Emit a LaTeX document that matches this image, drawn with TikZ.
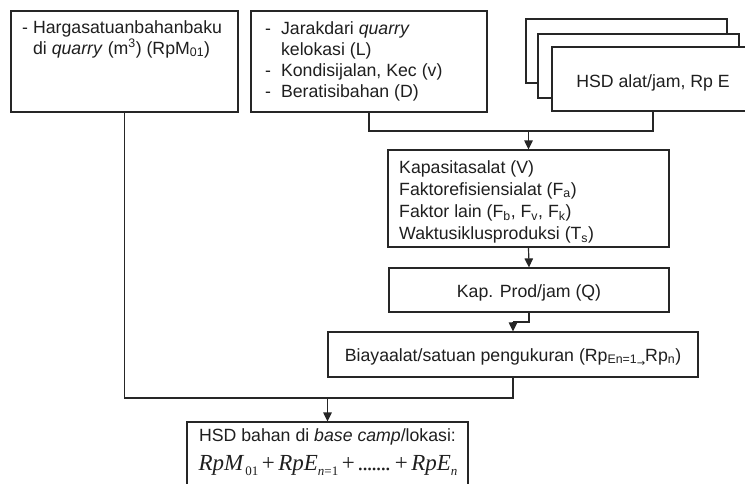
\documentclass[tikz,border=0pt]{standalone}
\usepackage{fontspec}
\setmainfont{Liberation Sans}
\newfontfamily\tms{Liberation Serif}
\newfontfamily\djv{DejaVu Sans}
\usetikzlibrary{arrows.meta,fit}
\newcommand\fsub[1]{\raisebox{-5pt}{\fontsize{13}{13}\selectfont #1}}
\newcommand\pl{\kern3.5pt{\upshape+}\kern3.5pt}
\newcommand\dt{.\kern-1.2pt}
\begin{document}
\begin{tikzpicture}[x=1pt,y=-1pt,
  every node/.style={font=\fontsize{17.7}{21}\selectfont, text=black!88},
  box/.style={draw=black!85, line width=1.2pt, fill=white, inner sep=0pt},
  txt/.style={inner sep=0pt, anchor=base west},
  arr/.style={draw=black!85, line width=1.2pt, -{Triangle[length=9pt,width=8.5pt]}},
  con/.style={draw=black!85, line width=1.2pt}]
\clip (0,0) rectangle (745,483);
\fill[white] (0,0) rectangle (745,483);
% boxes
\node[box, fit={(11,11) (238,112)}] (b1) {};
\node[box, fit={(251,11) (487,112)}] (b2) {};
\node[box, fit={(526,19) (727,83)}] (b3a) {};
\node[box, fit={(538,34) (739,98)}] (b3b) {};
\node[box, fit={(552,47) (754,111)}] (b3) {};
\node[txt, anchor=base] (t3) at (653,87) {HSD alat/jam, Rp E};
\node[box, fit={(388,150) (669,247)}] (b4) {};
\node[box, fit={(389,268) (669,312)}] (b5) {};
\node[txt, anchor=base] (t5) at (529,297) {Kap. Prod/jam (Q)};
\node[box, fit={(328,332) (698,377)}] (b6) {};
\node[txt, anchor=base] (t6) at (513,361) {Biayaalat/satuan pengukuran (Rp\textsubscript{En=1}\kern-0.5pt\raisebox{-5pt}{\djv\fontsize{10}{10}\selectfont →}Rp\textsubscript{n})};
\node[box, fit={(187,422) (468,500)}] (b7) {};
% texts
\node[txt] (t1) at (22,33) {\begin{tabular}[t]{@{}l@{\hspace{5pt}}l@{}}-&Hargasatuanbahanbaku\\&di \textit{quarry} (m\textsuperscript{3}) (RpM\textsubscript{01})\end{tabular}};
\node[txt] (t2) at (265,34) {\begin{tabular}[t]{@{}l@{\hspace{10pt}}l@{}}-&Jarakdari \textit{quarry}\\&kelokasi (L)\\-&Kondisijalan, Kec (v)\\-&Beratisibahan (D)\end{tabular}};
\node[txt, font=\fontsize{17.7}{22.3}\selectfont] (t4) at (399,173) {\begin{tabular}[t]{@{}l@{}}Kapasitasalat (V)\\Faktorefisiensialat (F\textsubscript{a})\\Faktor lain (F\textsubscript{b}, F\textsubscript{v}, F\textsubscript{k})\\Waktusiklusproduksi (T\textsubscript{s})\end{tabular}};
\node[txt, anchor=base] (t7) at (327.5,441) {HSD bahan di \textit{base camp}/lokasi:};
\node[txt, anchor=base, font=\tms\fontsize{23}{23}\selectfont\itshape] (f7) at (328,470)
  {RpM\kern2pt\fsub{\upshape 01}\pl RpE\fsub{n\upshape =1}\pl \dt\dt\dt\dt\dt\dt\dt\kern1.2pt\pl RpE\fsub{n}};
% connectors
\coordinate (j1) at (b4.north |- 0,131);
\draw[con] (b2.south) |- (j1);
\draw[con] (b3.south) |- (j1);
\draw[arr] (j1) -- (b4.north);
\draw[arr] (b4.south) -- (b5.north);
\coordinate (j2) at (b5.south |- 0,322);
\coordinate (j3) at (b6.north |- 0,322);
\draw[con] (b5.south) -- (j2) -- (j3);
\draw[arr] (j3) -- (b6.north);
\coordinate (j4) at (b7.north |- 0,398);
\draw[con] (b1.south) |- (j4);
\draw[con] (b6.south) |- (j4);
\draw[arr] (j4) -- (b7.north);
\end{tikzpicture}
\end{document}
